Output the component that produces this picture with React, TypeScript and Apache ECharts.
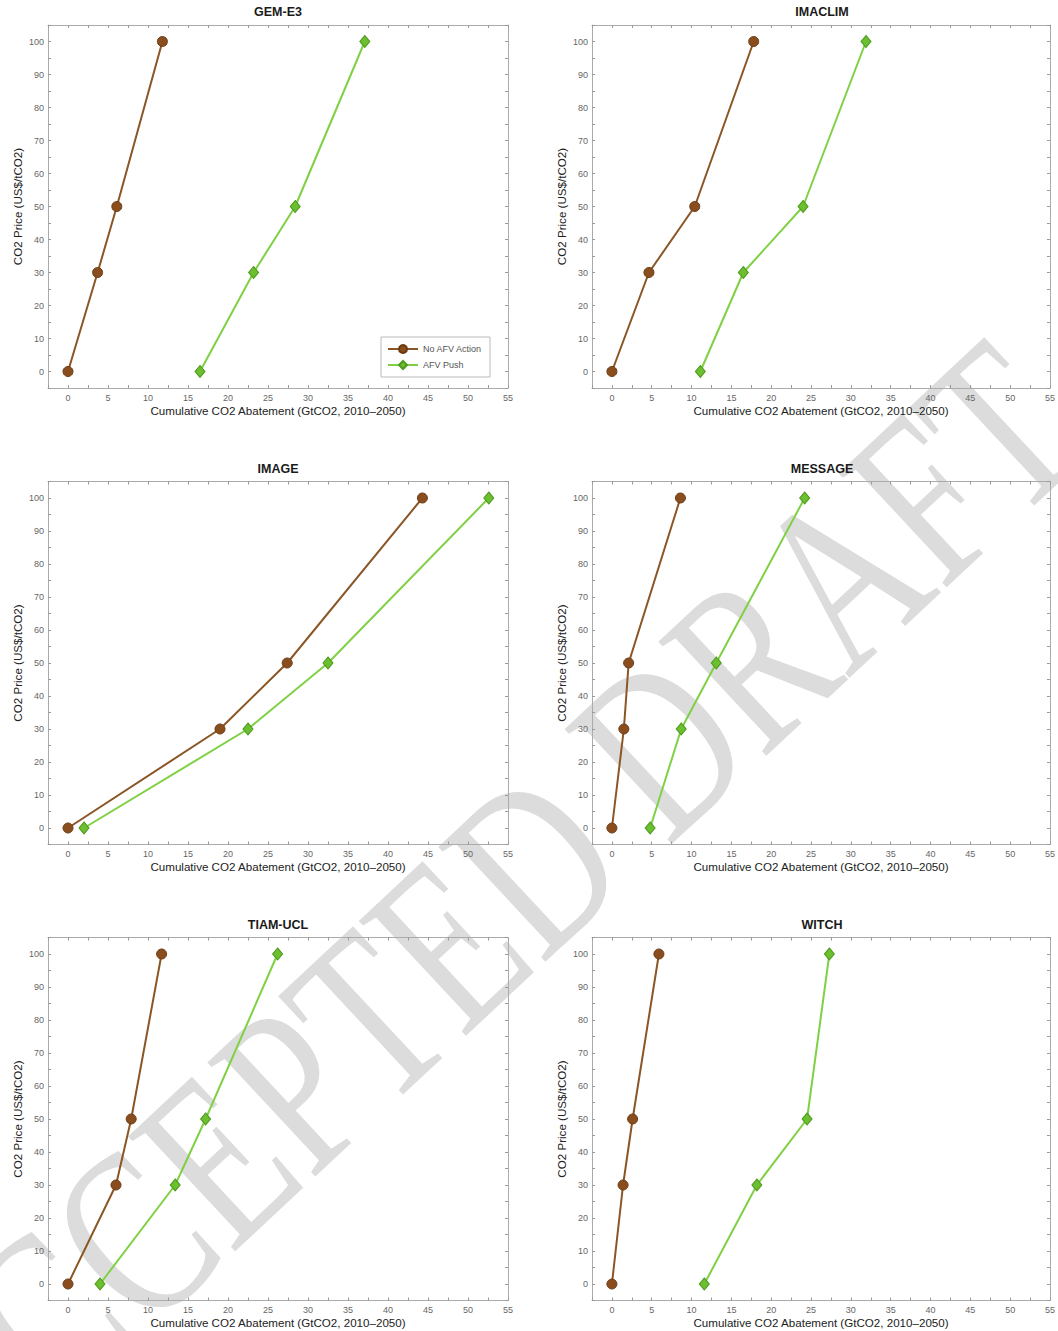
import React, { useEffect, useRef } from 'react';
import * as echarts from 'echarts';

const models = ['GEM-E3', 'IMACLIM', 'IMAGE', 'MESSAGE', 'TIAM-UCL', 'WITCH'];
const co2Prices = [0, 30, 50, 100];

const noAfvGemE3 = [0, 3.7, 6.1, 11.8];
const noAfvImaclim = [0, 4.65, 10.4, 17.8];
const noAfvImage = [0, 19.0, 27.4, 44.3];
const noAfvMessage = [0, 1.5, 2.1, 8.6];
const noAfvTiam = [0, 6.0, 7.9, 11.7];
const noAfvWitch = [0, 1.4, 2.6, 5.9];

const afvPushGemE3 = [16.5, 23.2, 28.4, 37.1];
const afvPushImaclim = [11.1, 16.5, 24.0, 31.9];
const afvPushImage = [2.0, 22.5, 32.5, 52.6];
const afvPushMessage = [4.8, 8.7, 13.1, 24.2];
const afvPushTiam = [4.0, 13.4, 17.2, 26.2];
const afvPushWitch = [11.6, 18.2, 24.5, 27.3];

const noAfvSeries = [noAfvGemE3, noAfvImaclim, noAfvImage, noAfvMessage, noAfvTiam, noAfvWitch];
const afvPushSeries = [afvPushGemE3, afvPushImaclim, afvPushImage, afvPushMessage, afvPushTiam, afvPushWitch];

const seriesNames = ['No AFV Action', 'AFV Push'];
const xAxisName = 'Cumulative CO2 Abatement (GtCO2, 2010\u20132050)';
const yAxisName = 'CO2 Price (US$/tCO2)';
const watermark = 'ACCEPTED DRAFT';

const W = 1058;
const H = 1331;
const colLeft = [48, 592];
const rowTop = [25, 481.5, 937.5];
const gw = 460;
const gh = 363;

const FONT = '"Liberation Sans", Arial, sans-serif';
const boxColor = '#ababab';
const tickColor = '#9a9a9a';

const isMult = (v: number, m: number) => Math.abs(v / m - Math.round(v / m)) < 1e-6;

export default function App() {
  const ref = useRef<HTMLDivElement>(null);
  useEffect(() => {
    if (!ref.current) return;
    const chart = echarts.init(ref.current, undefined, { renderer: 'svg' });
    const grids: any[] = [];
    const xAxes: any[] = [];
    const yAxes: any[] = [];
    const series: any[] = [];
    const graphics: any[] = [];

    graphics.push({
      type: 'text',
      z: -10,
      x: 474,
      y: 918,
      rotation: (43 * Math.PI) / 180,
      scaleX: 0.74,
      scaleY: 1,
      style: {
        text: watermark,
        fontFamily: '"Liberation Serif", "Times New Roman", serif',
        fontSize: 240,
        fill: '#dcdcdc',
        align: 'center',
        verticalAlign: 'middle',
      },
      silent: true,
    });

    models.forEach((m, i) => {
      const col = i % 2;
      const row = Math.floor(i / 2);
      const left = colLeft[col];
      const top = rowTop[row];
      grids.push({ left, top, width: gw, height: gh, containLabel: false, show: false });

      const baseX = {
        gridIndex: i,
        type: 'value',
        min: -2.5,
        max: 55,
        interval: 2.5,
        splitLine: { show: false },
        axisLine: { show: true, onZero: false, lineStyle: { color: boxColor, width: 1 } },
        axisTick: { show: true, inside: true, length: 3, lineStyle: { color: tickColor } },
      };
      xAxes.push({
        ...baseX,
        position: 'bottom',
        name: xAxisName,
        nameLocation: 'middle',
        nameGap: 16,
        nameTextStyle: { fontSize: 11.6, color: '#222', fontFamily: FONT },
        axisLabel: {
          show: true,
          margin: 5,
          fontSize: 9,
          color: '#666',
          fontFamily: FONT,
          showMinLabel: true,
          showMaxLabel: true,
          formatter: (v: number) => (v >= 0 && isMult(v, 5) ? String(Math.round(v)) : ''),
        },
      });
      xAxes.push({ ...baseX, position: 'top', axisLabel: { show: false } });

      const baseY = {
        gridIndex: i,
        type: 'value',
        min: -5,
        max: 105,
        interval: 5,
        splitLine: { show: false },
        axisLine: { show: true, onZero: false, lineStyle: { color: boxColor, width: 1 } },
        axisTick: { show: true, inside: true, length: 3, lineStyle: { color: tickColor } },
      };
      yAxes.push({
        ...baseY,
        position: 'left',
        name: yAxisName,
        nameLocation: 'middle',
        nameGap: 25,
        nameRotate: 90,
        nameTextStyle: { fontSize: 11.6, color: '#222', fontFamily: FONT },
        axisLabel: {
          show: true,
          margin: 4,
          fontSize: 9,
          color: '#666',
          fontFamily: FONT,
          showMinLabel: true,
          showMaxLabel: true,
          formatter: (v: number) => (v >= 0 && v <= 100 && isMult(v, 10) ? String(Math.round(v)) : ''),
        },
      });
      yAxes.push({ ...baseY, position: 'right', axisLabel: { show: false } });

      series.push({
        name: seriesNames[0],
        type: 'line',
        xAxisIndex: 2 * i,
        yAxisIndex: 2 * i,
        data: noAfvSeries[i].map((x, j) => [x, co2Prices[j]]),
        symbol: 'circle',
        symbolSize: 10,
        lineStyle: { color: '#8b5626', width: 2 },
        itemStyle: { color: '#8a4e1e', borderColor: '#6b3a12', borderWidth: 1 },
        z: 3,
      });
      series.push({
        name: seriesNames[1],
        type: 'line',
        xAxisIndex: 2 * i,
        yAxisIndex: 2 * i,
        data: afvPushSeries[i].map((x, j) => [x, co2Prices[j]]),
        symbol: 'diamond',
        symbolSize: [10, 12],
        lineStyle: { color: '#7fd043', width: 2 },
        itemStyle: { color: '#6cbf2e', borderColor: '#4f9a20', borderWidth: 1 },
        z: 3,
      });

      graphics.push({
        type: 'text',
        z: 10,
        x: left + gw / 2,
        y: top - 13,
        style: {
          text: m,
          fontFamily: FONT,
          fontSize: 12.5,
          fontWeight: 'bold',
          fill: '#1a1a1a',
          align: 'center',
          verticalAlign: 'middle',
        },
      });
    });

    chart.setOption({
      animation: false,
      backgroundColor: '#ffffff',
      textStyle: { fontFamily: FONT },
      grid: grids,
      xAxis: xAxes,
      yAxis: yAxes,
      series,
      graphic: { elements: graphics },
      legend: {
        data: seriesNames,
        orient: 'vertical',
        left: 381,
        top: 337,
        itemWidth: 30,
        itemHeight: 10,
        itemGap: 6,
        padding: [7, 8, 7, 6],
        borderColor: '#bbbbbb',
        borderWidth: 1,
        backgroundColor: '#ffffff',
        selectedMode: false,
        textStyle: { fontSize: 9, color: '#555', fontFamily: FONT },
      },
    });
    return () => chart.dispose();
  }, []);
  return (
    <div
      ref={ref}
      style={{ position: 'absolute', left: 0, top: 0, width: W, height: H, background: '#fff' }}
    />
  );
}
